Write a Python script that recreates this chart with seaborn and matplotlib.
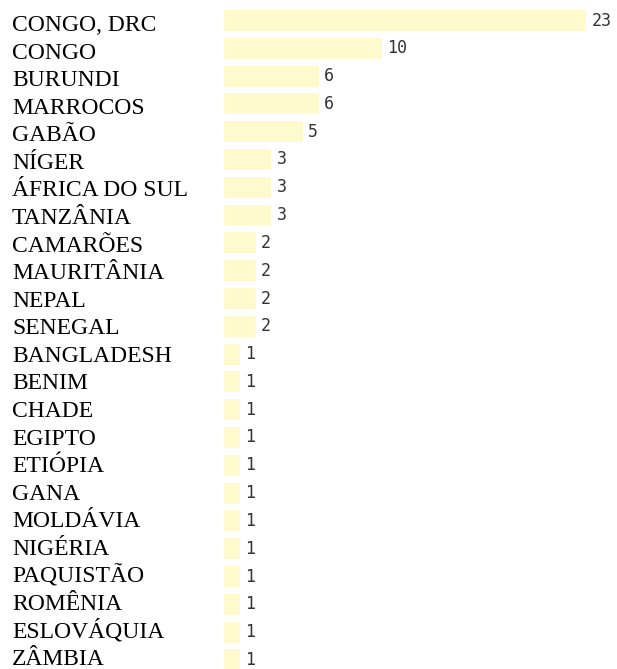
import pandas as pd
import matplotlib.pyplot as plt
import seaborn as sns

# Values
countries = [
    'CONGO, DRC', 'CONGO', 'BURUNDI', 'MARROCOS', 'GABÃO', 'NÍGER',
    'ÁFRICA DO SUL', 'TANZÂNIA', 'CAMARÕES', 'MAURITÂNIA', 'NEPAL',
    'SENEGAL', 'BANGLADESH', 'BENIM', 'CHADE', 'EGIPTO', 'ETIÓPIA',
    'GANA', 'MOLDÁVIA', 'NIGÉRIA', 'PAQUISTÃO', 'ROMÊNIA',
    'ESLOVÁQUIA', 'ZÂMBIA',
]
counts = [23, 10, 6, 6, 5, 3, 3, 3, 2, 2, 2, 2, 1, 1, 1, 1, 1, 1, 1, 1, 1, 1, 1, 1]

df = pd.DataFrame({'country': countries, 'count': counts})

W, H = 617, 669
fig = plt.figure(figsize=(W / 100, H / 100), dpi=100)
ax = fig.add_axes([224 / W, 0, 1 - 224 / W, 1])

sns.barplot(data=df, x='count', y='country', orient='h', color='#fffacd',
            saturation=1, width=0.75, ax=ax)

# one unit ~ 15.75 px, one row ~ 27.8 px, first row centre at 20.5 px
ax.set_xlim(0, (W - 224) / 15.75)
ax.set_ylim((H - 20.5) / 27.8, -20.5 / 27.8)
ax.axis('off')

for i, (name, n) in enumerate(zip(countries, counts)):
    # country names sit a little below the bar centres
    fig.text(12 / W, 1 - (31 + i * 27.57) / H, name,
             family='Liberation Serif', fontsize=17, color='black',
             ha='left', va='baseline')
    ax.text(n + 0.35, i, str(n), family='DejaVu Sans Mono', fontsize=12,
            color='#333333', ha='left', va='center')

fig.savefig('out.png', dpi=100)
